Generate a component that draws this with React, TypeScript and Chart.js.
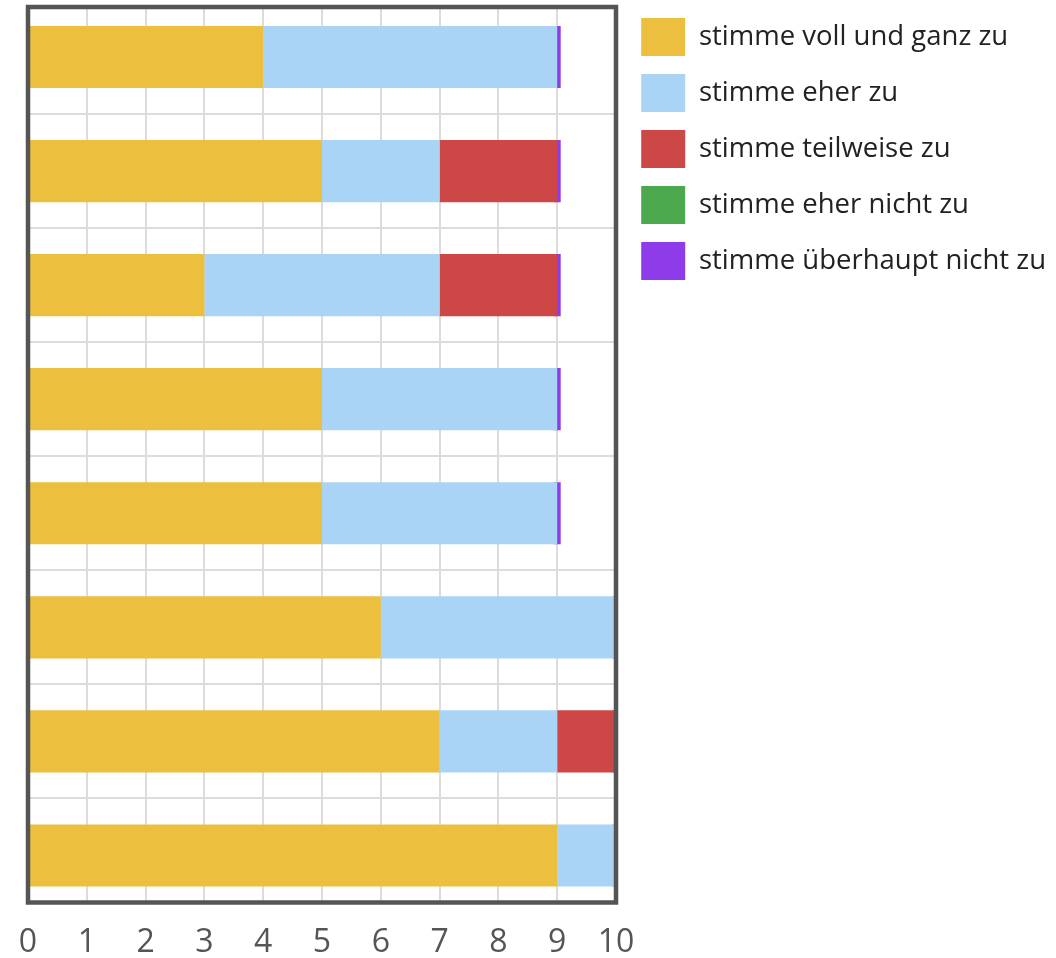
import React, { useEffect, useRef } from "react";
import { Chart, registerables } from "chart.js";

Chart.register(...registerables);

const categories = ["Aussage 1", "Aussage 2", "Aussage 3", "Aussage 4", "Aussage 5", "Aussage 6", "Aussage 7", "Aussage 8"];
const seriesNames = [
  "stimme voll und ganz zu",
  "stimme eher zu",
  "stimme teilweise zu",
  "stimme eher nicht zu",
  "stimme überhaupt nicht zu",
];
const vollUndGanz = [4, 5, 3, 5, 5, 6, 7, 9];
const eherZu = [5, 2, 4, 4, 4, 4, 2, 1];
const teilweise = [0, 2, 2, 0, 0, 0, 1, 0];
const eherNicht = [0, 0, 0, 0, 0, 0, 0, 0];
const ueberhauptNicht = [0, 0, 0, 0, 0, 0, 0, 0];
const xMin = 0;
const xMax = 10;

const seriesColors = ["#ECBF3E", "#AAD4F5", "#CD4747", "#4CA84C", "#8E3CEA"];

const frame = {
  id: "frame",
  afterDatasetsDraw(chart: any) {
    const { ctx, chartArea } = chart;
    ctx.save();
    ctx.strokeStyle = "#555555";
    ctx.lineWidth = 4.5;
    ctx.strokeRect(chartArea.left, chartArea.top, chartArea.right - chartArea.left, chartArea.bottom - chartArea.top);
    ctx.restore();
  },
};

export default function App() {
  const ref = useRef<HTMLCanvasElement | null>(null);
  useEffect(() => {
    if (!ref.current) return;
    const all = [vollUndGanz, eherZu, teilweise, eherNicht, ueberhauptNicht];
    const datasets = all.map((vals, k) => ({
      label: seriesNames[k],
      data: vals.map((v, i) => ({ x: v, y: i, cat: categories[i] })),
      xAxisID: "x",
      yAxisID: "y",
      backgroundColor: seriesColors[k],
      borderWidth: 0,
      categoryPercentage: 1,
      barPercentage: 0.545,
      minBarLength: k === 4 ? 7 : 0,
    }));
    const chart = new Chart(ref.current, {
      type: "bar",
      data: { datasets },
      options: {
        animation: false,
        responsive: true,
        maintainAspectRatio: false,
        indexAxis: "y",
        layout: { padding: { left: 28, top: 0, right: 0, bottom: 0 } },
        scales: {
          x: {
            type: "linear",
            position: "bottom",
            stacked: true,
            min: xMin,
            max: xMax,
            ticks: {
              stepSize: 1,
              padding: 8,
              color: "#555555",
              font: { family: "'Open Sans'", size: 32, lineHeight: 2 },
            },
            grid: { color: "#dcdcdc", lineWidth: 2, drawTicks: false },
            border: { display: false },
            afterFit(s: any) {
              s.height = 55.5;
            },
          },
          y: {
            type: "linear",
            position: "left",
            stacked: true,
            reverse: true,
            offset: false,
            min: -0.438,
            max: 7.412,
            ticks: { display: false, stepSize: 1, includeBounds: false },
            grid: { color: "#dcdcdc", lineWidth: 2, drawTicks: false },
            border: { display: false },
            afterFit(s: any) {
              s.width = 0;
            },
          },
          topGap: {
            type: "linear",
            axis: "x",
            position: "top",
            display: true,
            min: 0,
            max: 1,
            ticks: { display: false },
            grid: { display: false, drawTicks: false },
            border: { display: false },
            afterFit(s: any) {
              s.height = 7;
            },
          },
          rightGap: {
            type: "linear",
            axis: "y",
            position: "right",
            display: true,
            min: 0,
            max: 1,
            ticks: { display: false },
            grid: { display: false, drawTicks: false },
            border: { display: false },
            afterFit(s: any) {
              s.width = 7.2;
            },
          },
        },
        plugins: {
          tooltip: { enabled: false },
          legend: {
            position: "right",
            align: "start",
            maxWidth: 480,
            labels: {
              boxWidth: 44,
              boxHeight: 38,
              padding: 18,
              color: "#222222",
              font: { family: "'Open Sans'", size: 27.5 },
            },
          },
        },
      },
      plugins: [frame],
    });
    return () => chart.destroy();
  }, []);
  return (
    <div style={{ position: "absolute", left: 0, top: 0, width: 1056, height: 958 }}>
      <canvas ref={ref} />
    </div>
  );
}
